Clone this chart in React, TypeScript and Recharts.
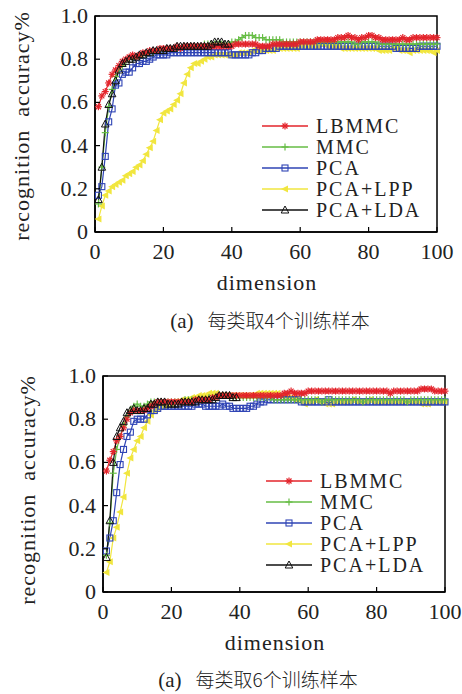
import React from 'react'
import { LineChart, Line, XAxis, YAxis, ReferenceArea, Legend } from 'recharts'

// dimension 1..100 (x categories)
const dims = Array.from({ length: 100 }, (_, i) => i + 1)
const xTicks = [0, 20, 40, 60, 80, 100]
const yTicks = [0, 0.2, 0.4, 0.6, 0.8, 1.0]

// (a) 4 training samples per class
const lbmmc4 = [
  0.58, 0.63, 0.65, 0.69, 0.73, 0.75, 0.77, 0.79, 0.80, 0.81,
  0.82, 0.81, 0.82, 0.83, 0.83, 0.84, 0.84, 0.84, 0.85, 0.85,
  0.85, 0.85, 0.85, 0.86, 0.85, 0.86, 0.86, 0.86, 0.86, 0.86,
  0.86, 0.86, 0.86, 0.86, 0.86, 0.86, 0.86, 0.86, 0.86, 0.86,
  0.87, 0.87, 0.87, 0.87, 0.87, 0.87, 0.87, 0.86, 0.86, 0.86,
  0.86, 0.87, 0.87, 0.87, 0.87, 0.87, 0.87, 0.87, 0.87, 0.88,
  0.88, 0.88, 0.88, 0.88, 0.89, 0.89, 0.89, 0.89, 0.89, 0.89,
  0.90, 0.90, 0.90, 0.91, 0.90, 0.90, 0.89, 0.90, 0.90, 0.91,
  0.91, 0.90, 0.90, 0.89, 0.89, 0.89, 0.89, 0.89, 0.89, 0.90,
  0.89, 0.89, 0.90, 0.90, 0.90, 0.90, 0.90, 0.90, 0.90, 0.90,
]
const mmc4 = [
  0.13, 0.30, 0.46, 0.58, 0.66, 0.72, 0.75, 0.77, 0.79, 0.80,
  0.80, 0.81, 0.81, 0.82, 0.82, 0.83, 0.83, 0.84, 0.84, 0.84,
  0.85, 0.85, 0.85, 0.85, 0.85, 0.86, 0.86, 0.86, 0.86, 0.86,
  0.86, 0.87, 0.87, 0.87, 0.87, 0.87, 0.87, 0.87, 0.87, 0.88,
  0.88, 0.89, 0.90, 0.91, 0.91, 0.91, 0.90, 0.90, 0.90, 0.89,
  0.89, 0.89, 0.89, 0.89, 0.88, 0.88, 0.88, 0.88, 0.88, 0.88,
  0.88, 0.88, 0.88, 0.88, 0.88, 0.88, 0.88, 0.88, 0.88, 0.88,
  0.88, 0.88, 0.88, 0.88, 0.88, 0.87, 0.87, 0.88, 0.88, 0.88,
  0.88, 0.88, 0.87, 0.87, 0.87, 0.87, 0.87, 0.87, 0.87, 0.87,
  0.87, 0.87, 0.87, 0.87, 0.87, 0.87, 0.87, 0.87, 0.87, 0.87,
]
const pca4 = [
  0.17, 0.21, 0.35, 0.51, 0.57, 0.68, 0.69, 0.73, 0.74, 0.74,
  0.76, 0.78, 0.78, 0.79, 0.79, 0.80, 0.81, 0.82, 0.82, 0.82,
  0.82, 0.83, 0.83, 0.83, 0.83, 0.83, 0.83, 0.83, 0.83, 0.83,
  0.83, 0.83, 0.83, 0.83, 0.83, 0.83, 0.83, 0.83, 0.83, 0.82,
  0.82, 0.82, 0.82, 0.82, 0.82, 0.83, 0.83, 0.84, 0.84, 0.85,
  0.85, 0.85, 0.85, 0.86, 0.86, 0.86, 0.86, 0.86, 0.86, 0.86,
  0.86, 0.86, 0.86, 0.86, 0.86, 0.86, 0.86, 0.86, 0.86, 0.86,
  0.86, 0.86, 0.86, 0.86, 0.86, 0.86, 0.86, 0.86, 0.86, 0.86,
  0.86, 0.86, 0.86, 0.86, 0.86, 0.86, 0.86, 0.85, 0.85, 0.85,
  0.85, 0.85, 0.85, 0.85, 0.86, 0.86, 0.86, 0.86, 0.86, 0.86,
]
const lpp4 = [
  0.06, 0.12, 0.17, 0.19, 0.21, 0.22, 0.23, 0.24, 0.26, 0.27,
  0.28, 0.30, 0.31, 0.33, 0.36, 0.39, 0.42, 0.47, 0.52, 0.55,
  0.56, 0.57, 0.59, 0.61, 0.64, 0.69, 0.73, 0.76, 0.78, 0.78,
  0.79, 0.80, 0.81, 0.81, 0.82, 0.82, 0.82, 0.82, 0.82, 0.82,
  0.82, 0.83, 0.83, 0.83, 0.83, 0.84, 0.84, 0.84, 0.84, 0.84,
  0.84, 0.84, 0.85, 0.85, 0.85, 0.85, 0.85, 0.85, 0.85, 0.86,
  0.86, 0.86, 0.86, 0.86, 0.86, 0.87, 0.87, 0.86, 0.86, 0.86,
  0.86, 0.85, 0.85, 0.85, 0.85, 0.85, 0.85, 0.85, 0.85, 0.85,
  0.85, 0.85, 0.84, 0.84, 0.84, 0.84, 0.85, 0.85, 0.84, 0.84,
  0.84, 0.83, 0.84, 0.84, 0.84, 0.84, 0.84, 0.84, 0.83, 0.84,
]
// PCA+LDA stops at 39 dimensions (c - 1)
const lda4 = [
  0.15, 0.30, 0.50, 0.59, 0.64, 0.70, 0.75, 0.78, 0.79, 0.80,
  0.80, 0.81, 0.82, 0.82, 0.83, 0.83, 0.84, 0.84, 0.84, 0.84,
  0.85, 0.85, 0.85, 0.86, 0.86, 0.86, 0.86, 0.86, 0.86, 0.86,
  0.86, 0.86, 0.86, 0.87, 0.88, 0.88, 0.88, 0.87, 0.87,
]

// (b) 6 training samples per class
const lbmmc6 = [
  0.56, 0.61, 0.65, 0.70, 0.72, 0.76, 0.80, 0.83, 0.84, 0.84,
  0.84, 0.84, 0.85, 0.86, 0.87, 0.88, 0.88, 0.88, 0.88, 0.88,
  0.88, 0.88, 0.88, 0.88, 0.88, 0.88, 0.89, 0.89, 0.89, 0.89,
  0.89, 0.90, 0.90, 0.91, 0.91, 0.91, 0.91, 0.91, 0.91, 0.91,
  0.91, 0.91, 0.91, 0.91, 0.91, 0.91, 0.91, 0.91, 0.91, 0.91,
  0.91, 0.91, 0.92, 0.92, 0.93, 0.92, 0.92, 0.92, 0.92, 0.93,
  0.93, 0.93, 0.93, 0.93, 0.93, 0.93, 0.93, 0.93, 0.93, 0.93,
  0.93, 0.93, 0.93, 0.93, 0.93, 0.93, 0.93, 0.93, 0.93, 0.93,
  0.93, 0.93, 0.93, 0.92, 0.93, 0.93, 0.93, 0.93, 0.93, 0.93,
  0.93, 0.93, 0.94, 0.94, 0.94, 0.94, 0.93, 0.93, 0.93, 0.93,
]
const mmc6 = [
  0.17, 0.32, 0.55, 0.66, 0.72, 0.77, 0.81, 0.84, 0.86, 0.87,
  0.86, 0.86, 0.87, 0.88, 0.88, 0.88, 0.88, 0.88, 0.88, 0.88,
  0.88, 0.88, 0.88, 0.89, 0.89, 0.89, 0.89, 0.89, 0.89, 0.89,
  0.90, 0.90, 0.90, 0.91, 0.91, 0.91, 0.90, 0.90, 0.90, 0.90,
  0.90, 0.90, 0.90, 0.90, 0.90, 0.90, 0.90, 0.90, 0.90, 0.89,
  0.89, 0.89, 0.89, 0.89, 0.89, 0.89, 0.89, 0.89, 0.89, 0.89,
  0.89, 0.89, 0.89, 0.88, 0.89, 0.89, 0.89, 0.89, 0.89, 0.89,
  0.89, 0.89, 0.89, 0.89, 0.89, 0.88, 0.89, 0.89, 0.89, 0.89,
  0.89, 0.89, 0.89, 0.89, 0.89, 0.89, 0.89, 0.89, 0.88, 0.89,
  0.89, 0.89, 0.89, 0.89, 0.89, 0.89, 0.89, 0.89, 0.89, 0.89,
]
const pca6 = [
  0.19, 0.25, 0.33, 0.46, 0.59, 0.66, 0.72, 0.74, 0.79, 0.80,
  0.80, 0.80, 0.82, 0.84, 0.84, 0.85, 0.86, 0.86, 0.86, 0.86,
  0.86, 0.86, 0.86, 0.86, 0.86, 0.86, 0.87, 0.87, 0.87, 0.86,
  0.86, 0.86, 0.86, 0.86, 0.87, 0.86, 0.86, 0.85, 0.85, 0.85,
  0.85, 0.85, 0.86, 0.86, 0.87, 0.88, 0.88, 0.89, 0.89, 0.89,
  0.89, 0.89, 0.89, 0.89, 0.89, 0.89, 0.89, 0.88, 0.88, 0.88,
  0.88, 0.88, 0.88, 0.88, 0.88, 0.89, 0.88, 0.88, 0.88, 0.88,
  0.88, 0.88, 0.88, 0.88, 0.88, 0.88, 0.88, 0.88, 0.88, 0.88,
  0.88, 0.88, 0.88, 0.88, 0.88, 0.88, 0.88, 0.88, 0.88, 0.88,
  0.88, 0.88, 0.88, 0.88, 0.88, 0.88, 0.88, 0.88, 0.88, 0.88,
]
const lpp6 = [
  0.09, 0.14, 0.25, 0.30, 0.37, 0.44, 0.55, 0.62, 0.66, 0.70,
  0.72, 0.76, 0.79, 0.82, 0.84, 0.85, 0.86, 0.86, 0.87, 0.87,
  0.88, 0.88, 0.89, 0.89, 0.89, 0.90, 0.90, 0.91, 0.91, 0.91,
  0.92, 0.92, 0.92, 0.91, 0.91, 0.91, 0.91, 0.91, 0.91, 0.91,
  0.91, 0.91, 0.91, 0.91, 0.92, 0.92, 0.92, 0.92, 0.92, 0.92,
  0.92, 0.91, 0.91, 0.90, 0.90, 0.89, 0.89, 0.88, 0.87, 0.88,
  0.88, 0.89, 0.88, 0.88, 0.87, 0.87, 0.87, 0.88, 0.88, 0.88,
  0.88, 0.88, 0.89, 0.88, 0.88, 0.88, 0.88, 0.89, 0.88, 0.88,
  0.88, 0.88, 0.88, 0.88, 0.88, 0.88, 0.88, 0.88, 0.88, 0.88,
  0.88, 0.88, 0.87, 0.87, 0.87, 0.88, 0.88, 0.88, 0.88, 0.88,
]
const lda6 = [
  0.16, 0.33, 0.60, 0.72, 0.76, 0.79, 0.83, 0.84, 0.85, 0.84,
  0.84, 0.85, 0.85, 0.87, 0.87, 0.88, 0.88, 0.88, 0.87, 0.87,
  0.87, 0.87, 0.88, 0.88, 0.88, 0.88, 0.88, 0.89, 0.89, 0.89,
  0.89, 0.89, 0.90, 0.91, 0.91, 0.91, 0.91, 0.90, 0.90,
]

// legend order
const SERIES = [
  { key: 'lbmmc', name: 'LBMMC', color: '#e3242b', shape: 'star' },
  { key: 'mmc', name: 'MMC', color: '#66bd45', shape: 'plus' },
  { key: 'pca', name: 'PCA', color: '#2f44b5', shape: 'square' },
  { key: 'lpp', name: 'PCA+LPP', color: '#f1e63f', shape: 'left' },
  { key: 'lda', name: 'PCA+LDA', color: '#111111', shape: 'tri' },
]
// drawing order (last on top)
const DRAW = ['lpp', 'pca', 'mmc', 'lbmmc', 'lda']

function rows(lb: number[], mm: number[], pc: number[], lp: number[], ld: number[]) {
  return dims.map((d, i) => ({
    dim: d,
    lbmmc: lb[i],
    mmc: mm[i],
    pca: pc[i],
    lpp: lp[i],
    lda: i < ld.length ? ld[i] : null,
  }))
}

const data4 = rows(lbmmc4, mmc4, pca4, lpp4, lda4)
const data6 = rows(lbmmc6, mmc6, pca6, lpp6, lda6)

const SERIF = "'Liberation Serif', 'Times New Roman', serif"

function Marker({ shape, color, cx, cy }: any) {
  switch (shape) {
    case 'star':
      return (
        <g stroke={color} strokeWidth={1.2}>
          <line x1={cx - 3.5} y1={cy} x2={cx + 3.5} y2={cy} />
          <line x1={cx} y1={cy - 3.5} x2={cx} y2={cy + 3.5} />
          <line x1={cx - 2.5} y1={cy - 2.5} x2={cx + 2.5} y2={cy + 2.5} />
          <line x1={cx - 2.5} y1={cy + 2.5} x2={cx + 2.5} y2={cy - 2.5} />
        </g>
      )
    case 'plus':
      return (
        <g stroke={color} strokeWidth={1.2}>
          <line x1={cx - 3.5} y1={cy} x2={cx + 3.5} y2={cy} />
          <line x1={cx} y1={cy - 3.5} x2={cx} y2={cy + 3.5} />
        </g>
      )
    case 'square':
      return <rect x={cx - 3} y={cy - 3} width={6} height={6} fill="none" stroke={color} strokeWidth={1.1} />
    case 'left':
      return <polygon points={`${cx - 4},${cy} ${cx + 3},${cy - 3.5} ${cx + 3},${cy + 3.5}`} fill={color} />
    default:
      return <polygon points={`${cx},${cy - 4} ${cx + 3.8},${cy + 3} ${cx - 3.8},${cy + 3}`} fill="#fff" fillOpacity={0} stroke={color} strokeWidth={1} />
  }
}

const XTick = ({ x, y, payload }: any) => (
  <g>
    <line x1={x} y1={y} x2={x} y2={y - 5} stroke="#000" strokeWidth={1.2} />
    <text x={x} y={y + 27} textAnchor="middle" fontFamily={SERIF} fontSize={22} fill="#222">{payload.value}</text>
  </g>
)

const YTick = ({ x, y, payload }: any) => (
  <g>
    <line x1={x} y1={y} x2={x + 5} y2={y} stroke="#000" strokeWidth={1.2} />
    <text x={x - 7} y={y + 7} textAnchor="end" fontFamily={SERIF} fontSize={22} fill="#222">
      {payload.value === 0 ? '0' : payload.value.toFixed(1)}
    </text>
  </g>
)

const LegendBox = () => (
  <div style={{ background: '#fff', padding: '1px 0 1px 4px' }}>
    {SERIES.map((s) => (
      <div key={s.key} style={{ display: 'flex', alignItems: 'center', height: 21 }}>
        <svg width={48} height={14} style={{ flex: 'none' }}>
          <line x1={0} y1={7} x2={46} y2={7} stroke={s.color} strokeWidth={1.5} />
          <Marker shape={s.shape} color={s.color} cx={23} cy={7} />
        </svg>
        <span style={{ marginLeft: 6, fontFamily: SERIF, fontSize: 20, letterSpacing: 2, color: '#222', lineHeight: '20px' }}>
          {s.name}
        </span>
      </div>
    ))}
  </div>
)

type PanelProps = {
  data: any[]
  top: number
  yAxisWidth: number
  right: number
  legendLeft: number
  legendTop: number
}

function Panel({ data, top, yAxisWidth, right, legendLeft, legendTop }: PanelProps) {
  return (
    <div style={{ position: 'absolute', left: 0, top }}>
      <LineChart width={462} height={270} data={data} margin={{ top: 16, right, bottom: 0, left: 0 }}>
        <XAxis
          dataKey="dim"
          type="number"
          domain={[0, 100]}
          ticks={xTicks}
          interval={0}
          height={38}
          tickSize={0}
          tickMargin={0}
          tick={<XTick />}
          axisLine={{ stroke: '#000', strokeWidth: 1.5 }}
        />
        <YAxis
          type="number"
          domain={[0, 1]}
          ticks={yTicks}
          interval={0}
          width={yAxisWidth}
          tickSize={0}
          tickMargin={0}
          tick={<YTick />}
          axisLine={{ stroke: '#000', strokeWidth: 1.5 }}
        />
        <ReferenceArea x1={0} x2={100} y1={0} y2={1} fill="none" stroke="#000" strokeWidth={1.5} />
        {DRAW.map((k) => {
          const s = SERIES.find((e) => e.key === k)!
          return (
            <Line
              key={k}
              dataKey={k}
              name={s.name}
              stroke={s.color}
              strokeWidth={1.2}
              isAnimationActive={false}
              connectNulls={false}
              dot={(p: any) =>
                p.cx == null || p.cy == null || p.payload?.[k] == null ? (
                  <g key={p.index} />
                ) : (
                  <g key={p.index}>
                    <Marker shape={s.shape} color={s.color} cx={p.cx} cy={p.cy} />
                  </g>
                )
              }
              activeDot={false}
            />
          )
        })}
        <Legend
          layout="horizontal"
          verticalAlign="middle"
          align="center"
          content={() => <LegendBox />}
          wrapperStyle={{ left: legendLeft, top: legendTop, width: 175 }}
        />
      </LineChart>
    </div>
  )
}

const textStyle: React.CSSProperties = {
  position: 'absolute',
  fontFamily: SERIF,
  fontSize: 22,
  color: '#222',
  whiteSpace: 'pre',
  transform: 'translate(-50%, -50%)',
  lineHeight: 1,
}

function YTitle({ x, y }: { x: number; y: number }) {
  return (
    <div style={{ ...textStyle, left: x, top: y, letterSpacing: 1, transform: 'translate(-50%, -50%) rotate(-90deg)' }}>
      {'recognition  accuracy%'}
    </div>
  )
}

function Caption({ x, y, n }: { x: number; y: number; n: number }) {
  return (
    <div style={{ ...textStyle, left: x, top: y, fontSize: 19 }}>
      <span style={{ fontFamily: SERIF, fontSize: 21 }}>(a)</span>
      <span style={{ fontFamily: "'Noto Sans CJK SC', sans-serif", marginLeft: 14, fontWeight: 300 }}>
        {`每类取${n}个训练样本`}
      </span>
    </div>
  )
}

export default function App() {
  return (
    <div style={{ position: 'absolute', left: 0, top: 0, width: 462, height: 694, background: '#fff', overflow: 'hidden' }}>
      <Panel data={data4} top={0} yAxisWidth={95} right={25} legendLeft={258} legendTop={114} />
      <YTitle x={22} y={126} />
      <div style={{ ...textStyle, left: 267, top: 283, letterSpacing: 1 }}>dimension</div>
      <Caption x={270} y={321} n={4} />

      <Panel data={data6} top={360} yAxisWidth={103} right={17} legendLeft={262} legendTop={109} />
      <YTitle x={28} y={490} />
      <div style={{ ...textStyle, left: 275, top: 643, letterSpacing: 1 }}>dimension</div>
      <Caption x={258} y={680} n={6} />
    </div>
  )
}
